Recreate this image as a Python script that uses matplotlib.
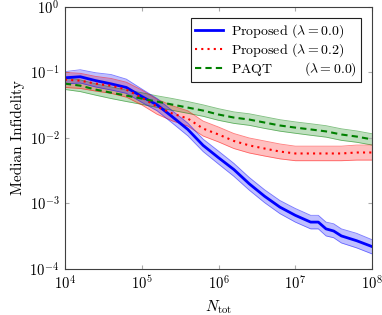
import numpy as np
import matplotlib
matplotlib.use("Agg")
import matplotlib.pyplot as plt

plt.rcParams["font.family"] = ["cmr10"]
plt.rcParams["mathtext.fontset"] = "cm"
plt.rcParams["axes.formatter.use_mathtext"] = True
plt.rcParams["font.size"] = 11

# Proposed (lambda = 0.0)
n_blue = 10 ** np.array([4.0, 4.2, 4.4, 4.6, 4.8, 5.0, 5.2, 5.4, 5.6, 5.8, 6.0, 6.2,
                         6.4, 6.6, 6.8, 7.0, 7.2, 7.3, 7.4, 7.5, 7.6, 7.8, 8.0])
blue_med = [0.083, 0.086, 0.075, 0.067, 0.059, 0.043, 0.032, 0.021, 0.0135, 0.0077,
            0.0050, 0.0033, 0.0020, 0.00129, 0.00088, 0.00066, 0.00052, 0.00052,
            0.00041, 0.00038, 0.00032, 0.00027, 0.00022]
blue_hi = [0.103, 0.110, 0.099, 0.093, 0.079, 0.056, 0.040, 0.026, 0.0169, 0.0096,
           0.0063, 0.0041, 0.0025, 0.00162, 0.00111, 0.00084, 0.00066, 0.00066,
           0.00052, 0.00049, 0.00041, 0.00035, 0.00028]
blue_lo = [0.067, 0.069, 0.060, 0.054, 0.048, 0.035, 0.026, 0.0168, 0.0108, 0.0062,
           0.0040, 0.0026, 0.0016, 0.00103, 0.00070, 0.00052, 0.00041, 0.00041,
           0.00032, 0.00030, 0.00025, 0.00021, 0.00017]

# Proposed (lambda = 0.2) and PAQT share the same grid
n_grid = 10 ** np.array([4.0, 4.2, 4.4, 4.6, 4.8, 5.0, 5.2, 5.4, 5.6, 5.8, 6.0,
                         6.2, 6.4, 6.6, 6.8, 7.0, 7.2, 7.4, 7.6, 7.8, 8.0])
red_med = [0.0776, 0.075, 0.0674, 0.0629, 0.0547, 0.0413, 0.0301, 0.0236, 0.0198,
           0.0139, 0.0113, 0.0090, 0.0077, 0.0069, 0.0062, 0.0058, 0.0058, 0.0058,
           0.0058, 0.0060, 0.0060]
red_hi = [0.100, 0.097, 0.087, 0.081, 0.071, 0.054, 0.039, 0.031, 0.026, 0.0181,
          0.0147, 0.0117, 0.0100, 0.0090, 0.0081, 0.0075, 0.0075, 0.0075, 0.0075,
          0.0078, 0.0078]
red_lo = [0.059, 0.057, 0.052, 0.048, 0.042, 0.032, 0.023, 0.0182, 0.0152, 0.0107,
          0.0087, 0.0069, 0.0059, 0.0053, 0.0048, 0.0045, 0.0045, 0.0045, 0.0045,
          0.0046, 0.0046]

green_med = [0.0675, 0.0629, 0.0547, 0.0492, 0.0443, 0.0399, 0.0359, 0.0323, 0.0291,
             0.0262, 0.0228, 0.0205, 0.0191, 0.0172, 0.0155, 0.0144, 0.0135, 0.0126,
             0.0113, 0.0105, 0.0095]
green_hi = [0.083, 0.077, 0.067, 0.060, 0.054, 0.049, 0.044, 0.040, 0.036, 0.032,
            0.028, 0.025, 0.0234, 0.0211, 0.0190, 0.0176, 0.0165, 0.0154, 0.0138,
            0.0128, 0.0116]
green_lo = [0.055, 0.051, 0.045, 0.040, 0.036, 0.0326, 0.0293, 0.0264, 0.0238,
            0.0214, 0.0186, 0.0167, 0.0156, 0.0140, 0.0127, 0.0118, 0.0110, 0.0103,
            0.0092, 0.0086, 0.0078]

labels = ["Proposed $(\\lambda = 0.0)$",
          "Proposed $(\\lambda = 0.2)$",
          "PAQT       $(\\lambda = 0.0)$"]

fig = plt.figure(figsize=(3.82, 3.15), dpi=100)
ax = fig.add_axes([0.170, 0.146, 0.804, 0.832])

# shaded bands first
ax.fill_between(n_grid, green_lo, green_hi, color=(0, 0.5, 0), alpha=0.25, lw=0)
ax.plot(n_grid, green_lo, color=(0, 0.5, 0), lw=0.6, alpha=0.5)
ax.plot(n_grid, green_hi, color=(0, 0.5, 0), lw=0.6, alpha=0.5)

ax.fill_between(n_grid, red_lo, red_hi, color="red", alpha=0.25, lw=0)
ax.plot(n_grid, red_lo, color="red", lw=0.6, alpha=0.5)
ax.plot(n_grid, red_hi, color="red", lw=0.6, alpha=0.5)

ax.fill_between(n_blue, blue_lo, blue_hi, color="blue", alpha=0.25, lw=0)
ax.plot(n_blue, blue_lo, color="blue", lw=0.6, alpha=0.5)
ax.plot(n_blue, blue_hi, color="blue", lw=0.6, alpha=0.5)

l1, = ax.plot(n_blue, blue_med, color="blue", lw=2.0, label=labels[0])
l2, = ax.plot(n_grid, red_med, color="red", lw=1.5, ls=(0, (1, 2)), label=labels[1])
l3, = ax.plot(n_grid, green_med, color=(0, 0.5, 0), lw=1.5, ls=(0, (3, 2)), label=labels[2])

ax.set_xscale("log")
ax.set_yscale("log")
ax.set_xlim(1e4, 1e8)
ax.set_ylim(1e-4, 1e0)
ax.minorticks_off()
ax.tick_params(which="both", direction="in", top=True, right=True, length=3,
               color="#aaaaaa", pad=4, labelsize=10.5)
for sp in ax.spines.values():
    sp.set_color("#404040")
    sp.set_linewidth(0.8)

ax.set_xlabel("$N_{\\rm tot}$", labelpad=4)
ax.set_ylabel("Median Infidelity", labelpad=3)

leg = ax.legend(handles=[l1, l2, l3], loc="upper right", fancybox=False,
                edgecolor="#202020", framealpha=1, handlelength=2.0,
                borderaxespad=0.8, labelspacing=0.1, handletextpad=0.6,
                borderpad=0.3, fontsize=10)
leg.get_frame().set_linewidth(0.8)

fig.savefig("out.png", dpi=100)
